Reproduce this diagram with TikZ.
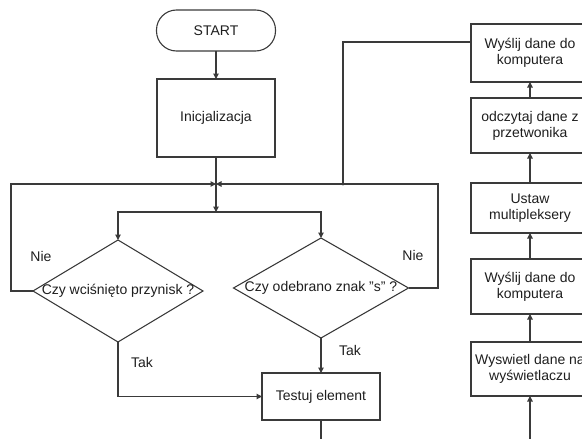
\documentclass[tikz,border=0pt]{standalone}
\usepackage{fontspec}
\setmainfont{Liberation Sans}
\usetikzlibrary{shapes.geometric,arrows.meta}
\definecolor{ln}{HTML}{3A3A3A}
\definecolor{tx}{HTML}{1E1E1E}
\tikzset{
  box/.style={draw=ln, line width=1.1pt, rectangle, inner sep=2pt, outer sep=0pt, align=center, text=tx, font=\fontsize{14}{16}\selectfont},
  term/.style={box, rounded corners=20pt},
  dia/.style={draw=ln, line width=1.1pt, diamond, inner sep=0pt, outer sep=0pt},
  lbl/.style={text=tx, font=\fontsize{14}{16}\selectfont, inner sep=0pt},
  conn/.style={draw=ln, line width=1.1pt},
  arr/.style={conn, -{Triangle[length=5.5pt,width=5.5pt]}},
}
\begin{document}
\begin{tikzpicture}[x=1pt,y=-1pt]
\useasboundingbox (0,0) rectangle (582,439);
\clip (0,0) rectangle (582,439);
% left part
\node[term, minimum width=119pt, minimum height=41pt] (start) at (216,30.5) {START};
\node[box, minimum width=118pt, minimum height=78pt] (init) at (216,118) {Inicjalizacja};
\coordinate (j1) at (216,184);
\coordinate (j2) at (216,212);
\node[dia, minimum width=170pt, minimum height=102pt] (d1) at (118,291) {};
\node[lbl] (d1t) at (d1.center) {Czy wciśnięto przynisk ?};
\node[dia, minimum width=175pt, minimum height=100pt] (d2) at (321,288) {};
\node[lbl] (d2t) at (d2.center) {Czy odebrano znak "s" ?};
\node[box, minimum width=118pt, minimum height=47pt] (test) at (321,396.5) {Testuj element};
\coordinate (lnie) at (11,291);
\coordinate (rnie) at (438,288);
\coordinate (k1) at (343,42);
\coordinate (k2) at (343,184);
\coordinate (tbot) at (321,445);
% right column
\node[box, minimum width=118pt, minimum height=58pt] (r1) at (530,53) {Wyślij dane do\\komputera};
\node[box, minimum width=118pt, minimum height=55pt] (r2) at (530,125.5) {odczytaj dane z\\przetwonika};
\node[box, minimum width=118pt, minimum height=50pt] (r3) at (530,208) {Ustaw\\multipleksery};
\node[box, minimum width=118pt, minimum height=55pt] (r4) at (530,286.5) {Wyślij dane do\\komputera};
\node[box, minimum width=118pt, minimum height=54pt] (r5) at (530,369) {Wyswietl dane na\\wyświetlaczu};
\coordinate (rbot) at (530,445);
% labels
\node[lbl] (n1) at (41,256) {Nie};
\node[lbl] (n2) at (413,255) {Nie};
\node[lbl] (t1) at (142,362) {Tak};
\node[lbl] (t2) at (350,350) {Tak};
% connectors
\draw[arr] (start) -- (init);
\draw[arr] (init.south) -- (j2);
\draw[arr] (j2) -| (d1.north);
\draw[arr] (j2) -| (d2.north);
\draw[arr] (d1.west) -- (lnie) |- (j1);
\draw[arr] (d2.east) -- (rnie) |- (j1);
\draw[conn] (k1 -| r1.west) -- (k1) -- (k2);
\fill[ln] (k2) circle (1.6pt);
\draw[arr] (d1.south) |- (test.west);
\draw[arr] (d2.south) -- (test.north);
\draw[conn] (test.south) -- (tbot);
\draw[arr] (rbot) -- (r5.south);
\draw[arr] (r5.north) -- (r4.south);
\draw[arr] (r4.north) -- (r3.south);
\draw[arr] (r3.north) -- (r2.south);
\draw[arr] (r2.north) -- (r1.south);
\end{tikzpicture}
\end{document}
